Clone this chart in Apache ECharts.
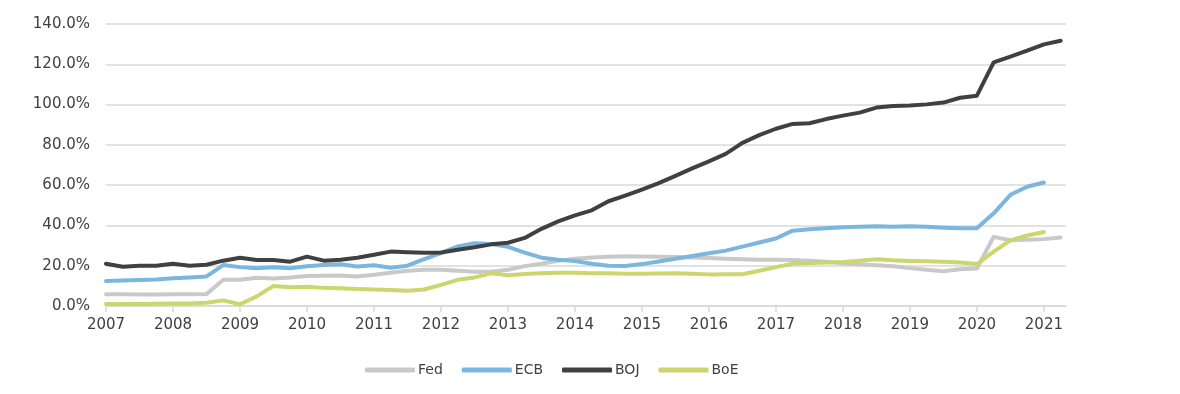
<!DOCTYPE html>
<html>
<head>
<meta charset="utf-8">
<script src="https://cdn.jsdelivr.net/npm/echarts@6/dist/echarts.min.js"></script>
<style>html,body{margin:0;padding:0;background:#fff}#c{width:1180px;height:394px}</style>
</head>
<body>
<div id="c"></div>
<script>
// Quarterly observations (decimal years)
const quarters = [
  2007.00, 2007.25, 2007.50, 2007.75, 2008.00, 2008.25, 2008.50, 2008.75,
  2009.00, 2009.25, 2009.50, 2009.75, 2010.00, 2010.25, 2010.50, 2010.75,
  2011.00, 2011.25, 2011.50, 2011.75, 2012.00, 2012.25, 2012.50, 2012.75,
  2013.00, 2013.25, 2013.50, 2013.75, 2014.00, 2014.25, 2014.50, 2014.75,
  2015.00, 2015.25, 2015.50, 2015.75, 2016.00, 2016.25, 2016.50, 2016.75,
  2017.00, 2017.25, 2017.50, 2017.75, 2018.00, 2018.25, 2018.50, 2018.75,
  2019.00, 2019.25, 2019.50, 2019.75, 2020.00, 2020.25, 2020.50, 2020.75,
  2021.00, 2021.25
];
const yearTicks = [2007, 2008, 2009, 2010, 2011, 2012, 2013, 2014, 2015, 2016, 2017, 2018, 2019, 2020, 2021];
const seriesNames = ['Fed', 'ECB', 'BOJ', 'BoE'];

const fed = [
  5.8, 5.8, 5.7, 5.7, 5.8, 5.8, 5.9, 13.0,
  13.0, 14.0, 13.7, 14.2, 14.9, 15.0, 15.1, 14.7,
  15.5, 16.5, 17.5, 18.0, 18.0, 17.5, 17.0, 17.0,
  18.0, 19.8, 21.0, 22.5, 23.5, 24.1, 24.5, 24.7,
  24.6, 24.4, 24.3, 24.1, 23.8, 23.5, 23.2, 23.0,
  22.9, 22.8, 22.5, 22.0, 21.2, 20.7, 20.2, 19.7,
  18.8, 18.0, 17.2, 18.2, 18.6, 34.3, 32.6, 32.9,
  33.2, 34.0
];
const ecb = [
  12.4, 12.6, 12.9, 13.2, 13.8, 14.2, 14.7, 20.3,
  19.3, 18.8, 19.2, 18.7, 19.7, 20.3, 20.7, 19.6,
  20.2, 19.0, 20.0, 23.3, 26.3, 29.6, 31.2, 30.8,
  29.4, 26.5, 24.0, 23.0, 22.3, 21.0, 20.0, 19.9,
  20.8, 22.1, 23.5, 24.8, 26.2, 27.5, 29.5, 31.5,
  33.5, 37.4, 38.1, 38.6, 39.1, 39.3, 39.6, 39.3,
  39.6, 39.3, 38.9, 38.6, 38.6, 46.0, 55.2, 59.2,
  61.3, null
];
const boj = [
  21.0, 19.5, 20.0, 20.0, 21.0, 20.0, 20.5, 22.5,
  24.0, 22.8, 22.8, 22.0, 24.5, 22.5, 23.0, 24.0,
  25.4, 27.0, 26.7, 26.4, 26.6, 27.9, 29.2, 30.6,
  31.4, 33.8, 38.3, 42.0, 45.0, 47.5, 52.0, 54.8,
  57.8, 61.0, 64.6, 68.3, 71.8, 75.5, 81.0, 84.8,
  88.0, 90.4, 90.7, 92.8, 94.5, 96.0, 98.5, 99.3,
  99.5, 100.1, 101.0, 103.4, 104.4, 121.0, 123.8, 126.8,
  129.9, 131.7
];
const boe = [
  1.0, 1.0, 1.0, 1.1, 1.2, 1.3, 1.6, 2.8,
  0.9, 4.8, 9.9, 9.3, 9.6, 9.0, 8.8, 8.5,
  8.2, 7.9, 7.6, 8.2, 10.5, 13.0, 14.2, 16.2,
  15.3, 15.9, 16.3, 16.5, 16.5, 16.3, 16.2, 16.0,
  16.0, 16.1, 16.2, 16.0, 15.7, 15.8, 15.8, 17.5,
  19.3, 21.0, 21.3, 21.6, 21.8, 22.5, 23.2, 22.7,
  22.4, 22.2, 22.0, 21.6, 20.8, 27.0, 32.6, 35.0,
  36.7, null
];
const colors = ['#c9c9c9', '#7cb5dd', '#404040', '#cdd66c'];

function pairs(vals) {
  const out = [];
  for (let i = 0; i < quarters.length; i++) {
    if (vals[i] !== null) out.push([quarters[i], vals[i]]);
  }
  return out;
}

const chart = echarts.init(document.getElementById('c'), null, {renderer: 'canvas'});
const font = 'DejaVu Sans';
const dataSets = [fed, ecb, boj, boe];

chart.setOption({
  animation: false,
  backgroundColor: '#ffffff',
  color: colors,
  grid: {left: 106, right: 114, top: 24, bottom: 88, containLabel: false},
  legend: {
    data: seriesNames,
    left: 365,
    top: 363,
    padding: 0,
    itemWidth: 50,
    itemHeight: 5,
    itemGap: 19,
    icon: 'roundRect',
    textStyle: {fontFamily: font, fontSize: 14, color: '#404040', padding: [0, 0, 0, -2]}
  },
  xAxis: {
    type: 'value',
    min: 2007,
    max: 2021.33,
    splitLine: {show: false},
    axisLine: {show: true, lineStyle: {color: '#d9d9d9', width: 1.5}},
    axisTick: {show: true, customValues: yearTicks, length: 6, lineStyle: {color: '#d9d9d9', width: 1.5}},
    axisLabel: {
      customValues: yearTicks,
      fontFamily: font, fontSize: 15, color: '#404040', margin: 12,
      formatter: function (v) { return String(Math.round(v)); }
    }
  },
  yAxis: {
    type: 'value',
    min: 0,
    max: 140,
    interval: 20,
    axisLine: {show: false},
    axisTick: {show: false},
    splitLine: {lineStyle: {color: '#d9d9d9', width: 1.5}},
    axisLabel: {
      fontFamily: font, fontSize: 15, color: '#404040', margin: 16,
      formatter: function (v) { return v.toFixed(1) + '%'; }
    }
  },
  series: seriesNames.map(function (name, k) {
    return {
      name: name,
      type: 'line',
      data: pairs(dataSets[k]),
      showSymbol: false,
      symbol: 'none',
      lineStyle: {width: 4, color: colors[k], cap: 'round', join: 'round'},
      itemStyle: {color: colors[k]}
    };
  })
});
</script>
</body>
</html>
